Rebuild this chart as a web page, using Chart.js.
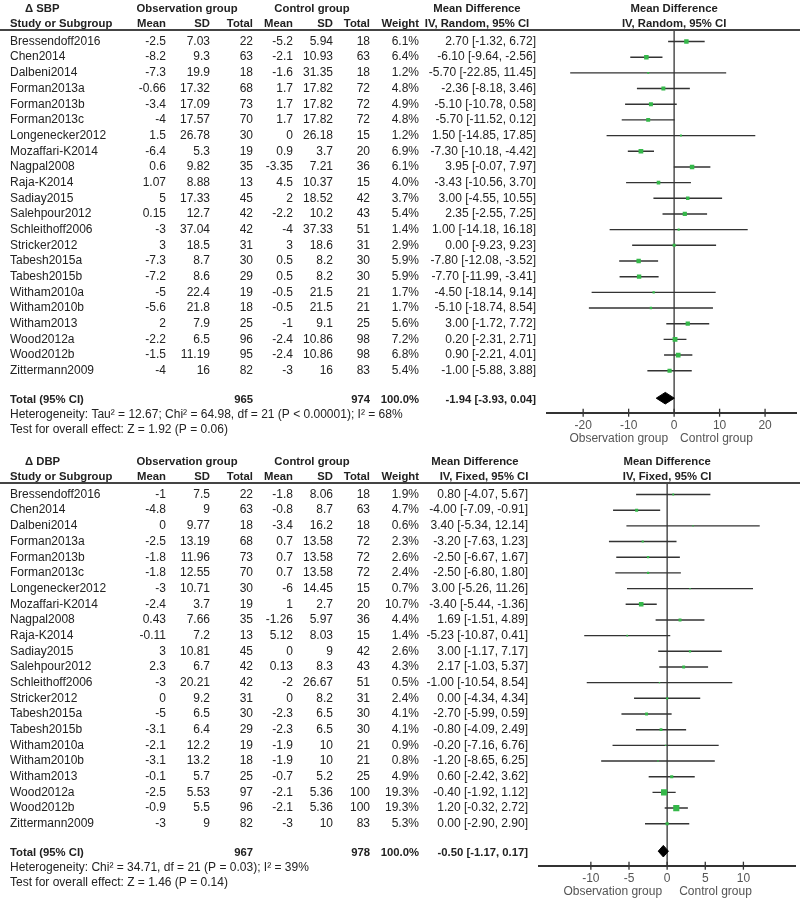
<!DOCTYPE html>
<html>
<head>
<meta charset="utf-8">
<script src="https://cdn.jsdelivr.net/npm/chart.js@4.4.0/dist/chart.umd.min.js"></script>
<style>
  html, body { margin: 0; padding: 0; background: #fff; overflow: hidden; }
  .panel { position: absolute; left: 0; width: 800px; height: 453px; }
</style>
</head>
<body>
<div class="panel" style="top:0px"><canvas id="sbp" width="800" height="453"></canvas></div>
<div class="panel" style="top:453px"><canvas id="dbp" width="800" height="453"></canvas></div>
<script>
// ---------------- DATA ----------------
const studyNames = ["Bressendoff2016","Chen2014","Dalbeni2014","Forman2013a","Forman2013b","Forman2013c",
  "Longenecker2012","Mozaffari-K2014","Nagpal2008","Raja-K2014","Sadiay2015","Salehpour2012",
  "Schleithoff2006","Stricker2012","Tabesh2015a","Tabesh2015b","Witham2010a","Witham2010b",
  "Witham2013","Wood2012a","Wood2012b","Zittermann2009"];

// Δ SBP (random effects)
const sbpObsMean = [-2.5,-8.2,-7.3,-0.66,-3.4,-4,1.5,-6.4,0.6,1.07,5,0.15,-3,3,-7.3,-7.2,-5,-5.6,2,-2.2,-1.5,-4];
const sbpObsSD   = [7.03,9.3,19.9,17.32,17.09,17.57,26.78,5.3,9.82,8.88,17.33,12.7,37.04,18.5,8.7,8.6,22.4,21.8,7.9,6.5,11.19,16];
const sbpObsN    = [22,63,18,68,73,70,30,19,35,13,45,42,42,31,30,29,19,18,25,96,95,82];
const sbpCtlMean = [-5.2,-2.1,-1.6,1.7,1.7,1.7,0,0.9,-3.35,4.5,2,-2.2,-4,3,0.5,0.5,-0.5,-0.5,-1,-2.4,-2.4,-3];
const sbpCtlSD   = [5.94,10.93,31.35,17.82,17.82,17.82,26.18,3.7,7.21,10.37,18.52,10.2,37.33,18.6,8.2,8.2,21.5,21.5,9.1,10.86,10.86,16];
const sbpCtlN    = [18,63,18,72,72,72,15,20,36,15,42,43,51,31,30,30,21,21,25,98,98,83];
const sbpWeight  = [6.1,6.4,1.2,4.8,4.9,4.8,1.2,6.9,6.1,4.0,3.7,5.4,1.4,2.9,5.9,5.9,1.7,1.7,5.6,7.2,6.8,5.4];
const sbpMD      = [2.70,-6.10,-5.70,-2.36,-5.10,-5.70,1.50,-7.30,3.95,-3.43,3.00,2.35,1.00,0.00,-7.80,-7.70,-4.50,-5.10,3.00,0.20,0.90,-1.00];
const sbpLo      = [-1.32,-9.64,-22.85,-8.18,-10.78,-11.52,-14.85,-10.18,-0.07,-10.56,-4.55,-2.55,-14.18,-9.23,-12.08,-11.99,-18.14,-18.74,-1.72,-2.31,-2.21,-5.88];
const sbpHi      = [6.72,-2.56,11.45,3.46,0.58,0.12,17.85,-4.42,7.97,3.70,10.55,7.25,16.18,9.23,-3.52,-3.41,9.14,8.54,7.72,2.71,4.01,3.88];
const sbpTotalN  = [965, 974];
const sbpPooled  = [-1.94, -3.93, 0.04];   // MD, lower, upper
const sbpTicks   = [-20, -10, 0, 10, 20];
const sbpStats   = ["Heterogeneity: Tau\u00b2 = 12.67; Chi\u00b2 = 64.98, df = 21 (P < 0.00001); I\u00b2 = 68%",
                    "Test for overall effect: Z = 1.92 (P = 0.06)"];

// Δ DBP (fixed effect)
const dbpObsMean = [-1,-4.8,0,-2.5,-1.8,-1.8,-3,-2.4,0.43,-0.11,3,2.3,-3,0,-5,-3.1,-2.1,-3.1,-0.1,-2.5,-0.9,-3];
const dbpObsSD   = [7.5,9,9.77,13.19,11.96,12.55,10.71,3.7,7.66,7.2,10.81,6.7,20.21,9.2,6.5,6.4,12.2,13.2,5.7,5.53,5.5,9];
const dbpObsN    = [22,63,18,68,73,70,30,19,35,13,45,42,42,31,30,29,19,18,25,97,96,82];
const dbpCtlMean = [-1.8,-0.8,-3.4,0.7,0.7,0.7,-6,1,-1.26,5.12,0,0.13,-2,0,-2.3,-2.3,-1.9,-1.9,-0.7,-2.1,-2.1,-3];
const dbpCtlSD   = [8.06,8.7,16.2,13.58,13.58,13.58,14.45,2.7,5.97,8.03,9,8.3,26.67,8.2,6.5,6.5,10,10,5.2,5.36,5.36,10];
const dbpCtlN    = [18,63,18,72,72,72,15,20,36,15,42,43,51,31,30,30,21,21,25,100,100,83];
const dbpWeight  = [1.9,4.7,0.6,2.3,2.6,2.4,0.7,10.7,4.4,1.4,2.6,4.3,0.5,2.4,4.1,4.1,0.9,0.8,4.9,19.3,19.3,5.3];
const dbpMD      = [0.80,-4.00,3.40,-3.20,-2.50,-2.50,3.00,-3.40,1.69,-5.23,3.00,2.17,-1.00,0.00,-2.70,-0.80,-0.20,-1.20,0.60,-0.40,1.20,0.00];
const dbpLo      = [-4.07,-7.09,-5.34,-7.63,-6.67,-6.80,-5.26,-5.44,-1.51,-10.87,-1.17,-1.03,-10.54,-4.34,-5.99,-4.09,-7.16,-8.65,-2.42,-1.92,-0.32,-2.90];
const dbpHi      = [5.67,-0.91,12.14,1.23,1.67,1.80,11.26,-1.36,4.89,0.41,7.17,5.37,8.54,4.34,0.59,2.49,6.76,6.25,3.62,1.12,2.72,2.90];
const dbpTotalN  = [967, 978];
const dbpPooled  = [-0.50, -1.17, 0.17];
const dbpTicks   = [-10, -5, 0, 5, 10];
const dbpStats   = ["Heterogeneity: Chi\u00b2 = 34.71, df = 21 (P = 0.03); I\u00b2 = 39%",
                    "Test for overall effect: Z = 1.46 (P = 0.14)"];

// ---------------- RENDERING ----------------
const FONT = '"Liberation Sans", Arial, Helvetica, sans-serif';
const TXT = '#222';
const GREEN = '#35b84a';

function fmtCI(md, lo, hi) { return md.toFixed(2) + ' [' + lo.toFixed(2) + ', ' + hi.toFixed(2) + ']'; }

function buildPanel(canvasId, p) {
  const n = p.md.length;
  const totalRow = n + 0.75;            // row index of the pooled estimate (after a blank line)
  const diamondH = 0.37;

  const ciData = [];
  p.lo.forEach((lo, i) => { ciData.push({x: lo, y: i}, {x: p.hi[i], y: i}, {x: null, y: null}); });
  const ptData = p.md.map((m, i) => ({x: m, y: i}));
  const radii = p.weight.map(w => Math.max(1.4, p.sq * Math.sqrt(w)) / 1.414);
  const [pm, pl, ph] = p.pooled;
  const diamond = [{x: pl, y: totalRow}, {x: pm, y: totalRow - diamondH}, {x: ph, y: totalRow},
                   {x: pm, y: totalRow + diamondH}, {x: pl, y: totalRow}];

  const textPlugin = {
    id: 'forestText',
    beforeDatasetsDraw(chart) {
      const {ctx, chartArea, scales: {x}} = chart;
      const x0 = x.getPixelForValue(0);
      ctx.save();
      ctx.strokeStyle = '#333'; ctx.lineWidth = 1.3;
      ctx.beginPath(); ctx.moveTo(x0, chartArea.top); ctx.lineTo(x0, chartArea.bottom); ctx.stroke();
      ctx.restore();
    },
    afterDraw(chart) {
      const {ctx, chartArea, scales: {x, y}} = chart;
      const x0 = x.getPixelForValue(0);
      const cx = p.cols;
      ctx.save();
      ctx.textBaseline = 'middle';
      const txt = (s, px, py, align, bold, color) => {
        ctx.font = (bold ? 'bold 11.3px ' : '12px ') + FONT;
        ctx.fillStyle = color || TXT;
        ctx.textAlign = align;
        ctx.fillText(s, px, py);
      };
      // header line
      ctx.strokeStyle = '#444'; ctx.lineWidth = 2;
      ctx.beginPath(); ctx.moveTo(0, chartArea.top); ctx.lineTo(800, chartArea.top); ctx.stroke();
      // headers
      const h1 = 8.5, h2 = 24;
      txt(p.title, 25, h1, 'left', true);
      txt('Observation group', 187, h1, 'center', true);
      txt('Control group', 312, h1, 'center', true);
      txt('Mean Difference', p.mdHead1, h1, 'center', true);
      txt(p.method, p.mdHead2, h2, 'center', true);
      txt('Mean Difference', x0, h1, 'center', true);
      txt(p.method, x0, h2, 'center', true);
      txt('Study or Subgroup', 10, h2, 'left', true);
      txt('Mean', cx[0], h2, 'right', true);
      txt('SD', cx[1], h2, 'right', true);
      txt('Total', cx[2], h2, 'right', true);
      txt('Mean', cx[3], h2, 'right', true);
      txt('SD', cx[4], h2, 'right', true);
      txt('Total', cx[5], h2, 'right', true);
      txt('Weight', cx[6], h2, 'right', true);
      // rows
      for (let i = 0; i < n; i++) {
        const py = y.getPixelForValue(i);
        txt(studyNames[i], 10, py, 'left');
        txt(String(p.obsMean[i]), cx[0], py, 'right');
        txt(String(p.obsSD[i]), cx[1], py, 'right');
        txt(String(p.obsN[i]), cx[2], py, 'right');
        txt(String(p.ctlMean[i]), cx[3], py, 'right');
        txt(String(p.ctlSD[i]), cx[4], py, 'right');
        txt(String(p.ctlN[i]), cx[5], py, 'right');
        txt(p.weight[i].toFixed(1) + '%', cx[6], py, 'right');
        txt(fmtCI(p.md[i], p.lo[i], p.hi[i]), cx[7], py, 'right');
      }
      // total row
      const ty = y.getPixelForValue(totalRow) + 1.5;
      txt('Total (95% CI)', 10, ty, 'left', true);
      txt(String(p.totalN[0]), cx[2], ty, 'right', true);
      txt(String(p.totalN[1]), cx[5], ty, 'right', true);
      txt('100.0%', cx[6], ty, 'right', true);
      txt(fmtCI(pm, pl, ph), cx[7], ty, 'right', true);
      txt(p.stats[0], 10, 415, 'left');
      txt(p.stats[1], 10, 430, 'left');
      // tick marks crossing the axis
      ctx.strokeStyle = '#333'; ctx.lineWidth = 1.3;
      p.ticks.forEach(v => {
        const px = x.getPixelForValue(v);
        ctx.beginPath(); ctx.moveTo(px, chartArea.bottom - 4); ctx.lineTo(px, chartArea.bottom + 4); ctx.stroke();
      });
      // favours labels
      txt('Observation group', x0 - p.favL, 438.5, 'right', false, '#555');
      txt('Control group', x0 + p.favR, 438.5, 'left', false, '#555');
      ctx.restore();
    }
  };

  return new Chart(document.getElementById(canvasId), {
    data: {
      datasets: [
        { type: 'line', data: ciData, borderColor: '#333', borderWidth: 1.4, pointRadius: 0,
          spanGaps: false, tension: 0, order: 3 },
        { type: 'scatter', data: ptData, pointStyle: 'rect', pointRadius: radii,
          backgroundColor: GREEN, borderWidth: 0, order: 1 },
        { type: 'line', data: diamond, borderColor: '#000', backgroundColor: '#000', borderWidth: 1,
          pointRadius: 0, fill: 'shape', tension: 0, order: 0 }
      ]
    },
    options: {
      responsive: false,
      animation: false,
      events: [],
      layout: { padding: { left: p.axisLeft, right: 0, top: 30, bottom: 0 } },
      plugins: { legend: { display: false }, tooltip: { enabled: false } },
      scales: {
        x: {
          type: 'linear', min: p.xmin, max: p.xmax, position: 'bottom',
          grid: { display: false, drawTicks: false },
          border: { display: true, color: '#333', width: 2 },
          afterBuildTicks: s => { s.ticks = p.ticks.map(v => ({ value: v })); },
          afterFit: s => { s.height = 40.3; },
          ticks: { color: '#555', padding: 6, font: { family: FONT, size: 12 },
                   callback: v => String(v), maxRotation: 0, autoSkip: false }
        },
        y: {
          type: 'linear', reverse: true, min: -0.734, max: 23.676, display: false
        }
      }
    },
    plugins: [textPlugin]
  });
}

buildPanel('sbp', {
  title: '\u0394 SBP', method: 'IV, Random, 95% CI', mdHead1: 477, mdHead2: 477,
  obsMean: sbpObsMean, obsSD: sbpObsSD, obsN: sbpObsN, ctlMean: sbpCtlMean, ctlSD: sbpCtlSD, ctlN: sbpCtlN,
  weight: sbpWeight, md: sbpMD, lo: sbpLo, hi: sbpHi, totalN: sbpTotalN, pooled: sbpPooled,
  ticks: sbpTicks, stats: sbpStats,
  cols: [166, 210, 253, 293, 333, 370, 419, 536],
  axisLeft: 547, xmin: -27.95, xmax: 26.8, sq: 1.8, favL: 6, favR: 6
});
buildPanel('dbp', {
  title: '\u0394 DBP', method: 'IV, Fixed, 95% CI', mdHead1: 475, mdHead2: 484,
  obsMean: dbpObsMean, obsSD: dbpObsSD, obsN: dbpObsN, ctlMean: dbpCtlMean, ctlSD: dbpCtlSD, ctlN: dbpCtlN,
  weight: dbpWeight, md: dbpMD, lo: dbpLo, hi: dbpHi, totalN: dbpTotalN, pooled: dbpPooled,
  ticks: dbpTicks, stats: dbpStats,
  cols: [166, 210, 253, 293, 333, 370, 419, 528],
  axisLeft: 539, xmin: -16.8, xmax: 16.85, sq: 1.4, favL: 5, favR: 12
});
</script>
</body>
</html>
